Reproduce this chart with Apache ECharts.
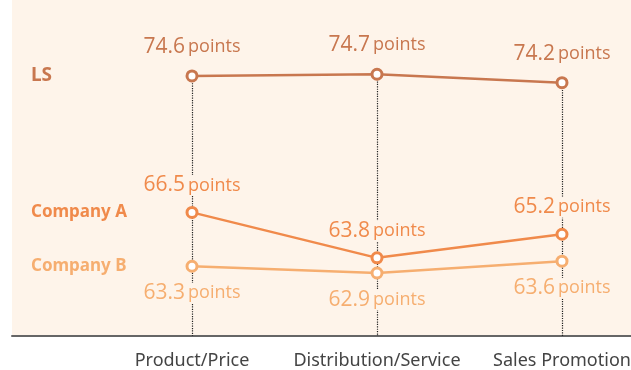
<!DOCTYPE html>
<html lang="en">
<head>
<meta charset="UTF-8">
<title>LS vs Company A / B</title>
<script src="https://cdn.jsdelivr.net/npm/echarts@6/dist/echarts.min.js"></script>
<style>
  html, body { margin: 0; padding: 0; background: #fff; }
  #main { width: 631px; height: 370px; }
</style>
</head>
<body>
<div id="main"></div>
<script>
// data
var categories = ['Product/Price', 'Distribution/Service', 'Sales Promotion'];
var seriesNames = ['LS', 'Company A', 'Company B'];
var lsValues = [74.6, 74.7, 74.2];
var companyAValues = [66.5, 63.8, 65.2];
var companyBValues = [63.3, 62.9, 63.6];
var unitText = 'points';

var colors = ['#c8774f', '#f08a4b', '#f6ae70'];
var yMin = 59.16, yMax = 79.11;
var bg = '#fef4ea';

function valueLabel(color, pos, dist) {
  return {
    show: true,
    position: pos,
    distance: dist,
    backgroundColor: bg,
    padding: [0, 2, 0, 2],
    formatter: function (p) { return '{n|' + p.value.toFixed(1) + '}{p|' + unitText + '}'; },
    rich: {
      n: { fontFamily: 'Open Sans', fontSize: 21, color: color, padding: [0, 3, 0, 0] },
      p: { fontFamily: 'Open Sans', fontSize: 18, color: color }
    }
  };
}

function makeSeries(idx, values, labelPos, labelDist) {
  return {
    name: seriesNames[idx],
    type: 'line',
    xAxisIndex: 1,
    yAxisIndex: 1,
    data: values,
    symbol: 'circle',
    symbolSize: 10,
    z: 5,
    lineStyle: { color: colors[idx], width: 2.5 },
    itemStyle: { color: '#fff', borderColor: colors[idx], borderWidth: 3 },
    label: valueLabel(colors[idx], labelPos, labelDist),
    emphasis: { disabled: true },
    markPoint: {
      symbolSize: 0,
      silent: true,
      data: [{ coord: [categories[0], values[0]], value: values[0] }],
      label: {
        show: true,
        position: 'inside',
        align: 'left',
        offset: [-161, 0],
        formatter: seriesNames[idx],
        fontFamily: 'Noto Sans',
        fontWeight: 'bold',
        fontSize: idx === 0 ? 19 : 17,
        color: colors[idx]
      }
    }
  };
}

var ls = makeSeries(0, lsValues, 'top', 12);
// dotted drop lines from LS points to the baseline
ls.markLine = {
  silent: true,
  symbol: 'none',
  z: 1,
  label: { show: false },
  lineStyle: { color: '#222', type: 'dotted', width: 1.2 },
  data: categories.map(function (c, i) {
    return [{ coord: [c, lsValues[i]] }, { coord: [c, yMin] }];
  })
};

var chart = echarts.init(document.getElementById('main'));
chart.setOption({
  animation: false,
  grid: [
    { left: 12, right: 0, top: 0, bottom: 34, show: true, backgroundColor: bg, borderWidth: 0, outerBoundsMode: 'none' },
    { left: 192, right: 69, top: 0, bottom: 34, outerBoundsMode: 'none' }
  ],
  xAxis: [
    {
      gridIndex: 0, type: 'value', min: 0, max: 1,
      axisLine: { show: true, lineStyle: { color: '#666', width: 2 } },
      axisTick: { show: false }, axisLabel: { show: false }, splitLine: { show: false }
    },
    {
      gridIndex: 1, type: 'category', data: categories, boundaryGap: false,
      axisLine: { show: false }, axisTick: { show: false }, splitLine: { show: false },
      axisLabel: { fontFamily: 'Noto Sans', fontSize: 18, color: '#444', margin: 16, interval: 0 }
    }
  ],
  yAxis: [
    { gridIndex: 0, type: 'value', show: false, min: 0, max: 1 },
    { gridIndex: 1, type: 'value', show: false, min: yMin, max: yMax }
  ],
  series: [
    ls,
    makeSeries(1, companyAValues, 'top', 10),
    makeSeries(2, companyBValues, 'bottom', 10)
  ]
});
</script>
</body>
</html>
